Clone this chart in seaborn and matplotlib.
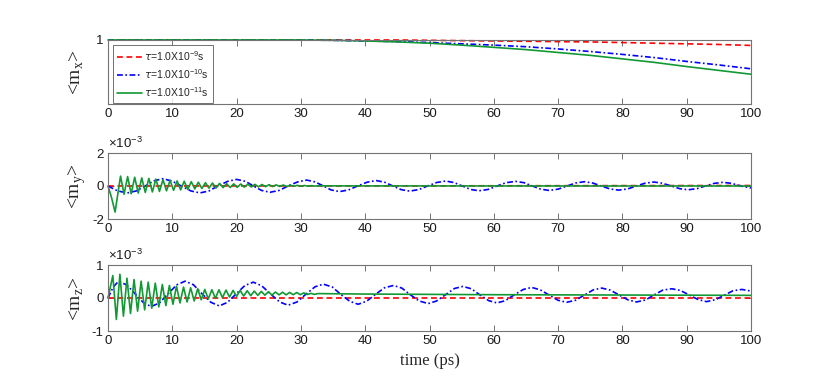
import numpy as np
import pandas as pd
import matplotlib
matplotlib.use("Agg")
import matplotlib.pyplot as plt
import seaborn as sns

# -----------------------------
# Data
# -----------------------------
labels = [r"$\tau$=1.0X10$^{\mathregular{-9}}$s",
          r"$\tau$=1.0X10$^{\mathregular{-10}}$s",
          r"$\tau$=1.0X10$^{\mathregular{-11}}$s"]
colors = ["#ff0000", "#0000ff", "#119933"]
dash_patterns = [(3.5, 2.2), (3.5, 1.5, 1.0, 1.5), None]

# <m_x>
mx_t = [0, 30, 35, 40, 45, 50, 55, 60, 65, 70, 75, 80, 85, 90, 95, 100]
mx_red = [1.0, 1.0, 1.0, 1.0, 1.0, 0.99999, 0.99998, 0.99997, 0.99996, 0.99995,
          0.99994, 0.99992, 0.9999, 0.99988, 0.99986, 0.99983]
mx_blue = [1.0, 1.0, 0.99999, 0.99997, 0.99995, 0.99992, 0.99988, 0.99984, 0.99979,
           0.99972, 0.99964, 0.99955, 0.99945, 0.99933, 0.99922, 0.9991]
mx_green = [1.0, 1.0, 0.99999, 0.99997, 0.99994, 0.9999, 0.99984, 0.99977, 0.9997,
            0.99961, 0.99952, 0.99941, 0.9993, 0.99917, 0.99905, 0.99893]

# <m_y>  (units of 1e-3)
my_red_t = [0, 50, 100]
my_red = [0.0, 0.01, 0.03]

my_blue_t = [0, 1.5, 3.0, 4.4, 5.8, 7.1, 8.5, 9.9, 11.4, 12.9, 14.3, 15.7, 17.1, 18.6,
             20.0, 21.4, 22.6, 23.9, 25.2, 26.6, 28.0, 29.5, 30.9, 32.2, 33.5, 34.7,
             36.0, 37.4, 38.8, 40.3, 41.7, 43.0, 44.3, 45.6, 46.9, 48.3, 49.7, 51.1,
             52.5, 53.8, 55.1, 56.4, 57.7, 59.1, 60.5, 61.9, 63.4, 64.7, 66.0, 67.3,
             68.6, 70.0, 71.4, 72.7, 74.1, 75.4, 76.7, 78.1, 79.4, 80.8, 82.2, 83.5,
             84.9, 86.2, 87.6, 88.9, 90.2, 91.6, 92.9, 94.3, 95.6, 97.0, 98.4, 100]
my_blue = [0, -0.30, -0.42, -0.30, 0, 0.31, 0.44, 0.31, 0, -0.30, -0.42, -0.30, 0, 0.28,
           0.40, 0.28, 0, -0.27, -0.38, -0.27, 0, 0.25, 0.36, 0.25, 0, -0.24,
           -0.34, -0.24, 0, 0.23, 0.33, 0.23, 0, -0.22, -0.31, -0.22, 0, 0.21,
           0.30, 0.21, 0, -0.21, -0.29, -0.21, 0, 0.20, 0.28, 0.20, 0, -0.19,
           -0.27, -0.19, 0, 0.18, 0.26, 0.18, 0, -0.18, -0.25, -0.18, 0, 0.17,
           0.24, 0.17, 0, -0.16, -0.23, -0.16, 0, 0.16, 0.22, 0.16, 0, -0.12]

my_green_t = [0, 0.55, 1.10, 1.95, 2.50, 3.05, 3.60, 4.15, 4.70, 5.25, 5.80, 6.35, 6.90,
              7.45, 8.00, 8.55, 9.10, 9.65, 10.20, 10.75, 11.30, 11.85, 12.40, 12.95,
              13.50, 14.05, 14.60, 15.15, 15.70, 16.25, 16.80, 17.35, 17.90, 18.45,
              19.00, 19.55, 20.10, 20.65, 21.20, 21.75, 22.30, 22.85, 23.40, 23.95,
              24.50, 25.05, 25.60, 26.15, 26.70, 27.25, 27.80, 28.35, 28.90, 29.45,
              30.00, 30.55, 31.10, 31.65, 32.20, 32.75, 40, 100]
my_green = [0, -0.70, -1.58, 0.60, -0.50, 0.57, -0.47, 0.53, -0.43, 0.49, -0.39, 0.46, -0.36,
            0.42, -0.33, 0.38, -0.29, 0.34, -0.26, 0.31, -0.24, 0.29, -0.21, 0.26,
            -0.18, 0.23, -0.15, 0.20, -0.13, 0.18, -0.12, 0.16, -0.10, 0.14,
            -0.09, 0.13, -0.08, 0.12, -0.07, 0.11, -0.06, 0.10, -0.05, 0.09,
            -0.04, 0.08, -0.035, 0.07, -0.03, 0.06, -0.025, 0.05, -0.02, 0.04,
            -0.015, 0.03, -0.01, 0.02, -0.005, 0.01, 0.005, 0.0]

# <m_z>  (units of 1e-3)
mz_red_t = [0, 100]
mz_red = [0.0, 0.0]

mz_blue_t = [0, 0.8, 1.6, 2.9, 4.2, 5.5, 6.7, 8.0, 9.3, 10.7, 12.0, 13.3, 14.6, 16.0,
             17.3, 18.6, 19.9, 21.3, 22.6, 23.9, 25.3, 26.7, 28.0, 29.4, 30.8, 32.2,
             33.5, 34.9, 36.2, 37.6, 38.9, 40.2, 41.6, 43.0, 44.4, 45.7, 47.0, 48.4,
             49.8, 51.1, 52.5, 53.9, 55.2, 56.5, 57.8, 59.2, 60.5, 61.8, 63.2, 64.6,
             65.9, 67.2, 68.6, 70.0, 71.3, 72.7, 74.1, 75.5, 76.8, 78.1, 79.5, 80.9,
             82.2, 83.6, 84.9, 86.3, 87.7, 89.0, 90.4, 91.8, 93.1, 94.5, 95.8, 97.2,
             98.6, 100]
mz_blue = [0, 0.33, 0.50, 0.40, 0.13, -0.14, -0.26, -0.15, 0.12, 0.40, 0.51, 0.40, 0.13, -0.13,
           -0.24, -0.13, 0.12, 0.38, 0.48, 0.37, 0.12, -0.12, -0.22, -0.12, 0.12, 0.34,
           0.42, 0.33, 0.11, -0.10, -0.19, -0.10, 0.11, 0.31, 0.38, 0.30, 0.10, -0.09,
           -0.17, -0.09, 0.10, 0.29, 0.35, 0.28, 0.10, -0.08, -0.15, -0.08, 0.10, 0.26,
           0.32, 0.25, 0.09, -0.07, -0.13, -0.07, 0.09, 0.25, 0.30, 0.24, 0.09, -0.06,
           -0.12, -0.06, 0.09, 0.24, 0.28, 0.23, 0.09, -0.05, -0.11, -0.05, 0.08, 0.22,
           0.26, 0.21]

mz_green_t = [0, 0.75, 1.30, 1.85, 2.40, 2.95, 3.50, 4.05, 4.60, 5.15, 5.70, 6.25, 6.80,
              7.35, 7.90, 8.45, 9.00, 9.55, 10.10, 10.65, 11.20, 11.75, 12.30, 12.85,
              13.40, 13.95, 14.50, 15.05, 15.60, 16.15, 16.70, 17.25, 17.80, 18.35,
              18.90, 19.45, 20.00, 20.55, 21.10, 21.65, 22.20, 22.75, 23.30, 23.85,
              24.40, 24.95, 25.50, 26.05, 26.60, 27.15, 27.70, 28.25, 28.80, 29.35,
              29.90, 30.45, 31.00, 31.55, 32.10, 32.65, 40, 60, 80, 100]
mz_green = [0, 0.68, -0.65, 0.72, -0.55, 0.60, -0.47, 0.56, -0.40, 0.51, -0.36, 0.48, -0.31,
            0.45, -0.27, 0.41, -0.23, 0.38, -0.19, 0.36, -0.15, 0.33, -0.12, 0.31,
            -0.09, 0.28, -0.055, 0.26, -0.03, 0.25, -0.01, 0.25, 0.01, 0.24,
            0.03, 0.23, 0.05, 0.23, 0.06, 0.22, 0.07, 0.21, 0.08, 0.20,
            0.085, 0.19, 0.09, 0.18, 0.095, 0.175, 0.095, 0.17, 0.10, 0.165,
            0.10, 0.155, 0.105, 0.14, 0.11, 0.133, 0.12, 0.10, 0.09, 0.08]

xticks = list(range(0, 101, 10))

# -----------------------------
# Style
# -----------------------------
sns.set_style("ticks")
plt.rcParams["font.family"] = ["Liberation Sans", "DejaVu Sans"]
plt.rcParams["axes.edgecolor"] = "0.45"
plt.rcParams["axes.linewidth"] = 0.8
plt.rcParams["xtick.color"] = "0.45"
plt.rcParams["ytick.color"] = "0.45"
plt.rcParams["xtick.labelcolor"] = "0.1"
plt.rcParams["ytick.labelcolor"] = "0.1"

fig = plt.figure(figsize=(8.3, 3.77), dpi=100)
left, width = 108 / 830, 643 / 830
ax1 = fig.add_axes([left, 273 / 377, width, 64 / 377])
ax2 = fig.add_axes([left, 158 / 377, width, 66 / 377])
ax3 = fig.add_axes([left, 46 / 377, width, 66 / 377])

panels = [
    (ax1, [(mx_t, mx_red), (mx_t, mx_blue), (mx_t, mx_green)]),
    (ax2, [(my_red_t, my_red), (my_blue_t, my_blue), (my_green_t, my_green)]),
    (ax3, [(mz_red_t, mz_red), (mz_blue_t, mz_blue), (mz_green_t, mz_green)]),
]

for ax, series in panels:
    for (t, v), c, dp, lab in zip(series, colors, dash_patterns, labels):
        sns.lineplot(x=t, y=v, ax=ax, color=c, linewidth=1.2,
                     estimator=None, sort=False, label=lab, legend=False,
                     clip_on=False)
        if dp is not None:
            ax.lines[-1].set_dashes(dp)
    ax.set_xlim(0, 100)
    ax.set_xticks(xticks)
    ax.set_xticklabels([str(x) for x in xticks])
    ax.tick_params(direction="in", length=4.5, width=0.7, labelsize=9.5,
                   top=True, right=True, pad=3)
    for s in ax.spines.values():
        s.set_visible(True)

ax1.set_ylim(0.998, 1.0)
ax1.set_yticks([1.0])
ax1.set_yticklabels(["1"])
ax2.set_ylim(-2, 2)
ax2.set_yticks([-2, 0, 2])
ax2.set_yticklabels(["-2", "0", "2"])
ax3.set_ylim(-1, 1)
ax3.set_yticks([-1, 0, 1])
ax3.set_yticklabels(["-1", "0", "1"])

for ax in (ax2, ax3):
    ax.text(0.0, 1.03, "\u00d710$^{\\mathregular{-3}}$", transform=ax.transAxes,
            fontsize=9.5, color="0.1", ha="left", va="bottom")

for ax, comp in zip((ax1, ax2, ax3), ["x", "y", "z"]):
    ax.set_ylabel("<m$_{\\mathregular{%s}}$>" % comp, family="Liberation Serif",
                  fontsize=14, va="center")
    ax.yaxis.set_label_coords(-0.048, 0.5)
    ax.set_xlabel("")

ax3.set_xlabel("time (ps)", family="Liberation Serif", fontsize=12)

leg = ax1.legend(loc="upper left", fontsize=7.5, frameon=True, fancybox=False,
                 edgecolor="0.3", handlelength=2.4, labelspacing=0.4,
                 borderpad=0.4, handletextpad=0.2, borderaxespad=0.45)
leg.get_frame().set_linewidth(0.7)

plt.savefig("out.png", dpi=100)
